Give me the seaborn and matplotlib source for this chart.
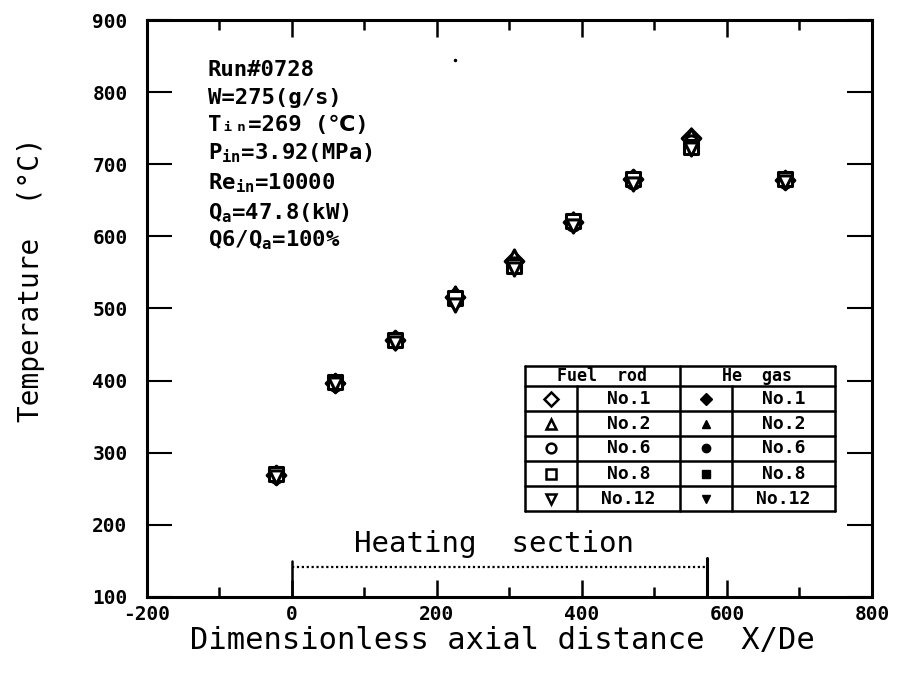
import numpy as np
import pandas as pd
import matplotlib
matplotlib.use("Agg")
import matplotlib.pyplot as plt
import seaborn as sns

# ---------------- data ----------------
x_pos = [-22, 60, 142, 225, 306, 388, 470, 550, 680]

fuel_no1 = [269, 397, 456, 516, 566, 620, 679, 736, 678]
fuel_no2 = [272, 399, 459, 522, 573, 624, 682, 740, 680]
fuel_no6 = [268, 396, 455, 512, 562, 617, 676, 731, 677]
fuel_no8 = [270, 398, 457, 514, 559, 622, 680, 724, 679]
fuel_no12 = [266, 395, 452, 505, 555, 614, 673, 721, 676]

he_no1 = [269, 397, 457, 518, 568, 621, 678, 737, 678]
he_no2 = [271, 398, 458, 520, 570, 623, 681, 739, 679]
he_no6 = [268, 397, 455, 513, 563, 618, 677, 732, 677]
he_no8 = [269, 398, 456, 515, 561, 621, 679, 726, 678]
he_no12 = [267, 396, 453, 507, 556, 615, 674, 722, 676]

rod_names = ["No.1", "No.2", "No.6", "No.8", "No.12"]
rod_markers = ["D", "^", "o", "s", "v"]

x_ticks = [-200, 0, 200, 400, 600, 800]
y_ticks = [100, 200, 300, 400, 500, 600, 700, 800, 900]

heat_start, heat_end, heat_level = 0, 572, 142

info_lines = [
    "Run#0728",
    "W=275(g/s)",
    "Tᵢₙ=269 (℃)",
    r"P$_{\mathregular{in}}$=3.92(MPa)",
    r"Re$_{\mathregular{in}}$=10000",
    r"Q$_{\mathregular{a}}$=47.8(kW)",
    r"Q6/Q$_{\mathregular{a}}$=100%",
]

fuel_sets = [fuel_no1, fuel_no2, fuel_no6, fuel_no8, fuel_no12]
he_sets = [he_no1, he_no2, he_no6, he_no8, he_no12]

rows = []
for name, vals in zip(rod_names, fuel_sets):
    for xv, tv in zip(x_pos, vals):
        rows.append(dict(x=xv, T=tv, group="Fuel rod", rod=name))
for name, vals in zip(rod_names, he_sets):
    for xv, tv in zip(x_pos, vals):
        rows.append(dict(x=xv, T=tv, group="He gas", rod=name))
df = pd.DataFrame(rows)

# ---------------- style ----------------
sns.set_theme(style="ticks")
plt.rcParams["font.family"] = ["DejaVu Sans Mono", "DejaVu Sans", "Noto Sans CJK JP"]
plt.rcParams["font.weight"] = "bold"
plt.rcParams["mathtext.default"] = "regular"
for k in ["text.color", "axes.labelcolor", "xtick.color", "ytick.color", "axes.edgecolor"]:
    plt.rcParams[k] = "black"

fig = plt.figure(figsize=(9.04, 6.79), dpi=100)
ax = fig.add_axes([147 / 904, 1 - 597 / 679, 725 / 904, 577 / 679])

# He gas (filled) first, fuel rods (open) on top
for name, m in zip(rod_names, rod_markers):
    sub = df[(df.group == "He gas") & (df.rod == name)]
    sns.scatterplot(data=sub, x="x", y="T", marker=m, s=55, color="black",
                    edgecolor="black", linewidth=1, ax=ax, legend=False, zorder=3)
for name, m in zip(rod_names, rod_markers):
    sub = df[(df.group == "Fuel rod") & (df.rod == name)]
    sns.scatterplot(data=sub, x="x", y="T", marker=m, s=90, facecolor="white",
                    edgecolor="black", linewidth=2.2, ax=ax, legend=False, zorder=4)

ax.set_xlim(-200, 800)
ax.set_ylim(100, 900)
ax.set_xticks(x_ticks)
ax.set_xticks(np.arange(-100, 800, 200), minor=True)
ax.set_yticks(y_ticks)
ax.set_xticklabels([str(v) for v in x_ticks], fontsize=14, fontweight="bold")
ax.set_yticklabels([str(v) for v in y_ticks], fontsize=14, fontweight="bold")
ax.tick_params(axis="x", which="major", direction="in", length=12, width=1.8,
               top=True, bottom=True, pad=6, colors="black")
ax.tick_params(axis="x", which="minor", direction="in", length=7, width=1.8,
               top=True, bottom=True)
ax.tick_params(axis="y", which="major", direction="in", length=18, width=1.5,
               left=True, right=True, pad=14, colors="black")
for sp in ax.spines.values():
    sp.set_linewidth(2.2)
    sp.set_color("black")

ax.set_xlabel("Dimensionless axial distance  X/De", fontsize=22, fontweight="normal")
ax.set_ylabel("Temperature  (°C)", fontsize=20, fontweight="normal")
ax.xaxis.set_label_coords(0.49, -0.05)
ax.yaxis.set_label_coords(-0.14, 0.55)

# info block
fy0 = [0.913, 0.865, 0.818, 0.770, 0.718, 0.666, 0.619]
for s, fy in zip(info_lines, fy0):
    ax.text(0.084, fy, s, transform=ax.transAxes, fontsize=16, fontweight="bold",
            va="center", ha="left",
            family=["DejaVu Sans Mono", "DejaVu Sans", "Noto Sans CJK JP"])
ax.plot([0.425], [0.931], marker=".", color="black", markersize=3, transform=ax.transAxes)

# heating section bracket
ax.plot([heat_start, heat_end], [heat_level, heat_level], color="black", lw=1.6,
        ls=(0, (1, 1.2)))
ax.plot([heat_start, heat_start], [100, heat_level + 8], color="black", lw=1.8)
ax.plot([heat_end, heat_end], [100, heat_level + 12], color="black", lw=2.2)
ax.text((heat_start + heat_end) / 2 - 8, heat_level + 12, "Heating  section",
        fontsize=21, fontweight="normal", ha="center", va="bottom")

# legend table
cols = [0.521, 0.593, 0.735, 0.807, 0.949]
rws = [0.400, 0.366, 0.322, 0.279, 0.236, 0.192, 0.149]
kw = dict(color="black", lw=1.8, transform=ax.transAxes, clip_on=False, zorder=5)
for r in rws:
    ax.plot([cols[0], cols[-1]], [r, r], **kw)
ax.plot([cols[0], cols[0]], [rws[0], rws[-1]], **kw)
ax.plot([cols[2], cols[2]], [rws[0], rws[-1]], **kw)
ax.plot([cols[4], cols[4]], [rws[0], rws[-1]], **kw)
ax.plot([cols[1], cols[1]], [rws[1], rws[-1]], **kw)
ax.plot([cols[3], cols[3]], [rws[1], rws[-1]], **kw)
hy = (rws[0] + rws[1]) / 2
ax.text((cols[0] + cols[2]) / 2, hy, "Fuel  rod", transform=ax.transAxes,
        ha="center", va="center", fontsize=12, fontweight="bold")
ax.text((cols[2] + cols[4]) / 2, hy, "He  gas", transform=ax.transAxes,
        ha="center", va="center", fontsize=12, fontweight="bold")
for i, (name, m) in enumerate(zip(rod_names, rod_markers)):
    yc = (rws[i + 1] + rws[i + 2]) / 2
    ax.plot([(cols[0] + cols[1]) / 2], [yc], marker=m, markersize=7, mfc="white",
            mec="black", mew=1.8, transform=ax.transAxes, ls="none")
    ax.text((cols[1] + cols[2]) / 2, yc, name, transform=ax.transAxes,
            ha="center", va="center", fontsize=13, fontweight="bold")
    ax.plot([(cols[2] + cols[3]) / 2], [yc], marker=m, markersize=6, mfc="black",
            mec="black", transform=ax.transAxes, ls="none")
    ax.text((cols[3] + cols[4]) / 2, yc, name, transform=ax.transAxes,
            ha="center", va="center", fontsize=13, fontweight="bold")

fig.savefig("out.png", dpi=100, facecolor="white")
